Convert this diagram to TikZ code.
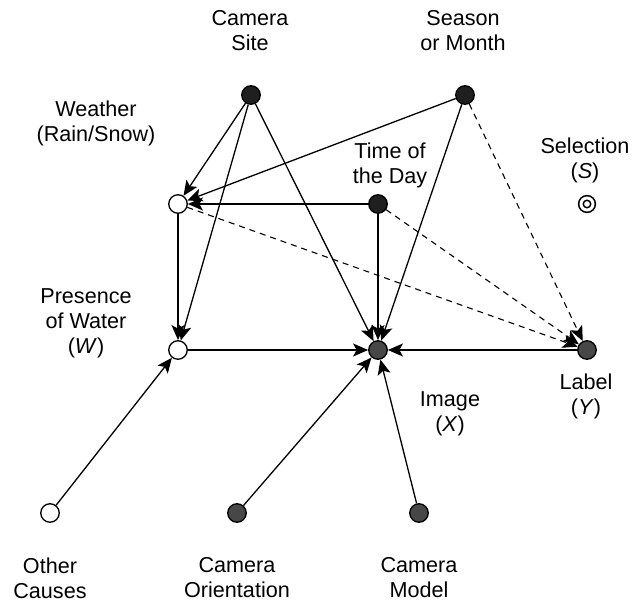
\documentclass[tikz,border=0pt]{standalone}
\usepackage{fontspec}
\setmainfont{Liberation Sans}
\usetikzlibrary{arrows.meta}
\begin{document}
\begin{tikzpicture}[x=1pt,y=-1pt]
	\tikzstyle{var}=[circle,draw,line width=1.3pt,inner sep=0pt,minimum size=18.5pt]
	\tikzstyle{root}=[var,fill=black!88]
	\tikzstyle{observed}=[var,fill=black!72]
	\tikzstyle{latent}=[var,fill=white]
	\tikzstyle{caption}=[align=center,font=\fontsize{21.6}{25}\selectfont]
	\tikzstyle{cause}=[line width=1.3pt,-{Stealth[length=15pt,width=13pt,inset=3.5pt]}]
	\tikzstyle{selection}=[cause,line width=1.1pt,dash pattern=on 6pt off 5pt]
	\useasboundingbox (0,0) rectangle (634,604);
	\node (site)    at (251,95)  [root] {};
	\node (season)  at (465,95)  [root] {};
	\node (weather) at (178,204) [latent] {};
	\node (time)    at (378,204) [root] {};
	\node (water)   at (178,350) [latent] {};
	\node (image)   at (378,350) [observed] {};
	\node (label)   at (587,350) [observed] {};
	\node (other)   at (50,513)  [latent] {};
	\node (orient)  at (237,513) [observed] {};
	\node (model)   at (419,513) [observed] {};
	\node (sel) at (587,204) [circle,draw,line width=1.6pt,inner sep=0pt,minimum size=12pt,double,double distance=3pt] {};
	\node (site-t)    at (250,31)  [caption] {Camera\\Site};
	\node (season-t)  at (463,31)  [caption] {Season\\or Month};
	\node (weather-t) at (96,123)  [caption] {Weather\\(Rain/Snow)};
	\node (time-t)    at (390,165) [caption] {Time of\\the Day};
	\node (sel-t)     at (585,160) [caption] {Selection\\(\textit{S})};
	\node (water-t)   at (86,323)  [caption] {Presence\\of Water\\(\textit{W})};
	\node (image-t)   at (450,414) [caption] {Image\\(\textit{X})};
	\node (label-t)   at (586,396) [caption] {Label\\(\textit{Y})};
	\node (other-t)   at (50,578)  [caption] {Other\\Causes};
	\node (orient-t)  at (237,578) [caption] {Camera\\Orientation};
	\node (model-t)   at (419,578) [caption] {Camera\\Model};
	\draw [cause] (site) -- (weather);
	\draw [cause] (site) -- (water);
	\draw [cause] (site) -- (image);
	\draw [cause] (season) -- (weather);
	\draw [cause] (season) -- (image);
	\draw [cause] (time) -- (weather);
	\draw [cause] (time) -- (image);
	\draw [cause] (weather) -- (water);
	\draw [cause] (water) -- (image);
	\draw [cause] (label) -- (image);
	\draw [cause] (other) -- (water);
	\draw [cause] (orient) -- (image);
	\draw [cause] (model) -- (image);
	\draw [selection] (season) -- (label);
	\draw [selection] (time) -- (label);
	\draw [selection] (weather) -- (label);
\end{tikzpicture}
\end{document}
